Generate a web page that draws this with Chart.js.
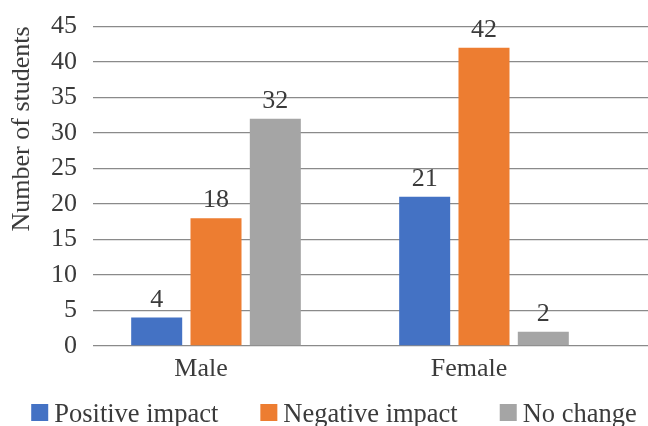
<!DOCTYPE html>
<html>
<head>
<meta charset="utf-8">
<script src="https://cdn.jsdelivr.net/npm/chart.js@4.4.1/dist/chart.umd.min.js"></script>
<style>
  html, body { margin: 0; padding: 0; background: #ffffff; }
  #wrap { width: 648px; height: 426px; position: relative; }
</style>
</head>
<body>
<div id="wrap"><canvas id="chart"></canvas></div>
<script>
// Survey results: how students' habits changed, by gender
const categories = ['Male', 'Female'];
const seriesNames = ['Positive impact', 'Negative impact', 'No change'];
const positiveImpact = [4, 21];
const negativeImpact = [18, 42];
const noChange = [32, 2];
const yTickValues = [0, 5, 10, 15, 20, 25, 30, 35, 40, 45];
const yAxisTitle = 'Number of students';

const seriesColors = ['#4472C4', '#ED7D31', '#A5A5A5'];
const textColor = '#3b3b3b';
const fontFamily = '"Liberation Serif", "Times New Roman", serif';
const baseFont = { family: fontFamily, size: 26 };

const seriesValues = [positiveImpact, negativeImpact, noChange];
const datasets = seriesNames.map((name, s) => ({
  label: name,
  data: seriesValues[s].map((v, i) => ({ x: i, y: v })),
  backgroundColor: seriesColors[s],
  borderWidth: 0,
  categoryPercentage: 0.664,
  barPercentage: 0.86
}));

// Numbers printed above each bar
const valueLabels = {
  id: 'valueLabels',
  afterDatasetsDraw(chart) {
    const ctx = chart.ctx;
    ctx.save();
    ctx.font = '26px ' + fontFamily;
    ctx.fillStyle = textColor;
    ctx.textAlign = 'center';
    ctx.textBaseline = 'alphabetic';
    chart.data.datasets.forEach((ds, di) => {
      chart.getDatasetMeta(di).data.forEach((bar, i) => {
        ctx.fillText(String(ds.data[i].y), bar.x, bar.y - 11);
      });
    });
    ctx.restore();
  }
};

// Legend row along the bottom edge
const bottomLegend = {
  id: 'bottomLegend',
  afterDraw(chart) {
    const ctx = chart.ctx;
    const box = 17, gapText = 6, gapItem = 42;
    ctx.save();
    ctx.font = '26.5px ' + fontFamily;
    ctx.textBaseline = 'alphabetic';
    ctx.textAlign = 'left';
    const items = chart.data.datasets.map(ds => ({
      text: ds.label, color: ds.backgroundColor, w: ctx.measureText(ds.label).width
    }));
    const total = items.reduce((a, it) => a + box + gapText + it.w, 0) + gapItem * (items.length - 1);
    let x = (chart.width - total) / 2 + 10;
    const baseline = 422;
    items.forEach(it => {
      ctx.fillStyle = it.color;
      ctx.fillRect(x, baseline - 18, box, box);
      ctx.fillStyle = textColor;
      ctx.fillText(it.text, x + box + gapText, baseline);
      x += box + gapText + it.w + gapItem;
    });
    ctx.restore();
  }
};

new Chart(document.getElementById('chart'), {
  type: 'bar',
  data: { datasets },
  options: {
    responsive: true,
    maintainAspectRatio: false,
    devicePixelRatio: 1,
    animation: false,
    layout: { padding: { top: 26, right: 0, bottom: 41, left: 0 } },
    plugins: {
      legend: { display: false },
      tooltip: { enabled: false }
    },
    scales: {
      x: {
        type: 'linear',
        offset: false,
        min: -0.459,
        max: 1.612,
        grid: { display: false, drawTicks: false },
        border: { display: false },
        afterBuildTicks: scale => { scale.ticks = categories.map((_, i) => ({ value: i })); },
        afterFit: scale => { scale.height = 39; },
        ticks: {
          callback: v => categories[v],
          font: baseFont,
          color: textColor,
          padding: 8,
          labelOffset: -15,
          autoSkip: false,
          maxRotation: 0
        }
      },
      y: {
        min: 0,
        max: 45,
        afterBuildTicks: scale => { scale.ticks = yTickValues.map(v => ({ value: v })); },
        afterFit: scale => { scale.width = 93; },
        grid: { color: '#8a8a8a', lineWidth: 1.3, drawTicks: false },
        border: { display: false },
        ticks: {
          font: { family: fontFamily, size: 26, lineHeight: 0.8 },
          color: textColor,
          padding: 16,
          autoSkip: false
        },
        title: {
          display: true,
          text: yAxisTitle,
          align: 'end',
          font: baseFont,
          color: textColor,
          padding: { top: 7, bottom: 0 }
        }
      }
    }
  },
  plugins: [valueLabels, bottomLegend]
});
</script>
</body>
</html>
